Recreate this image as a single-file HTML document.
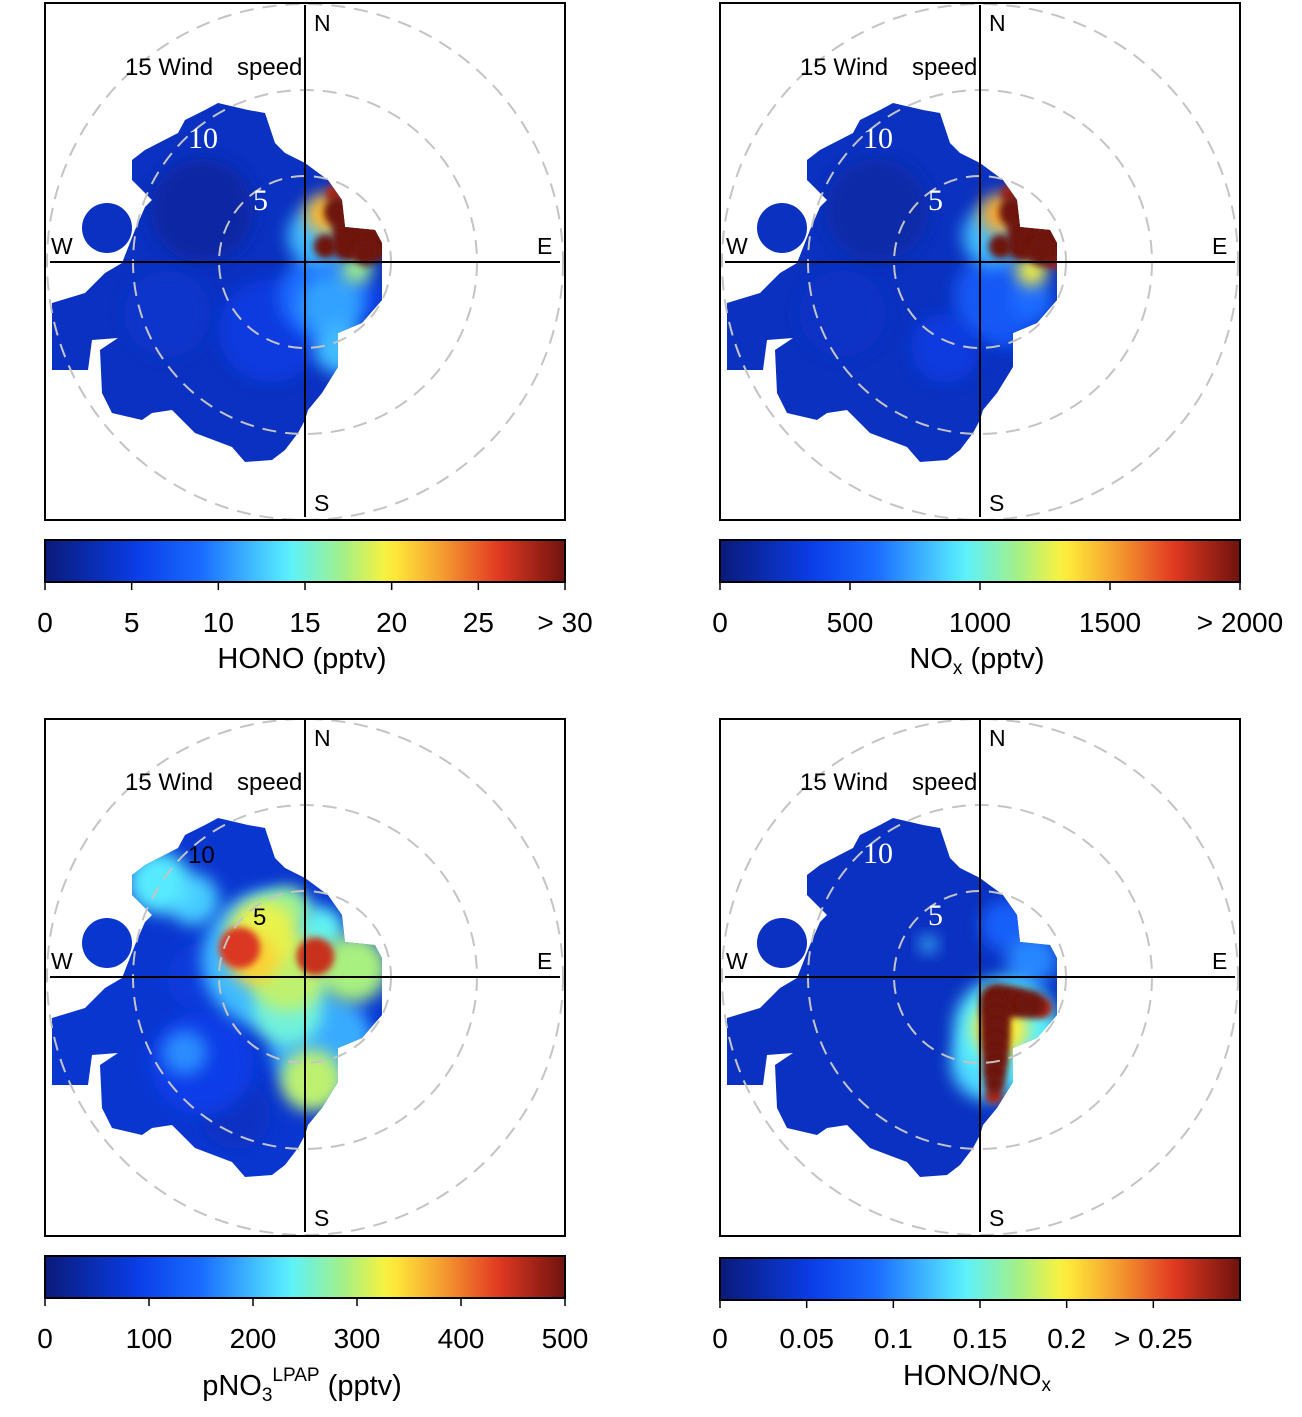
<!DOCTYPE html>
<html><head><meta charset="utf-8">
<style>
body{margin:0;background:#fff;}
svg{display:block;font-family:"Liberation Sans",sans-serif;}
</style></head>
<body>
<svg id="fig" width="1302" height="1417" viewBox="0 0 1302 1417" xmlns="http://www.w3.org/2000/svg">
<defs>
<filter id="blur" x="-50%" y="-50%" width="200%" height="200%"><feGaussianBlur stdDeviation="8"/></filter>
<filter id="blur2" x="-50%" y="-50%" width="200%" height="200%"><feGaussianBlur stdDeviation="3.5"/></filter>
</defs>
</svg>
<script>
// ---- data ----
const scalePx = 17.2; // px per m/s
const hono_u=[-6,-8,-2,1,2,1.5,3.5,0.8,1.2,3,2.4,3,4.1,1.2,2,1.7,3.5];
const hono_v=[3,-3,-4,-2,-5,-2.5,-2,1.5,2.8,-0.4,0.9,1.8,1.2,0.9,2.9,4,0.6];
const hono_val=[2,4,5,9,12,11,6,12,22,17,30,30,30,30,30,28,30];
const hono_r=[3,2.5,3,2.5,1.5,1.8,1,1.8,1.2,0.9,0.8,1.4,1.1,0.7,0.9,0.5,0.8];
const nox_u=[-6,-8,-2,1,1.5,3,0.8,1.2,3,2.4,3,4.1,1.2,2,1.7,4.3,3.5];
const nox_v=[3,-3,-5,-2,-3.5,-2.2,1.5,2.8,-0.5,0.9,1.8,1.2,0.9,2.9,4,0.4,0.6];
const nox_val=[150,250,330,500,450,600,800,1500,1300,2000,2000,2000,2000,2000,1900,1900,2000];
const nox_r=[3,2.5,2,2.5,1.5,1.2,1.8,1.2,0.9,0.8,1.4,1.1,0.7,0.9,0.5,0.8,0.8];
const pno_u=[-6,-2,1,-8.5,-6.5,-7,-2.5,-1,2.8,0.4,-1,-3.8,0.6,2.3,-4,-6,-2,1,-1,-3];
const pno_v=[-5,1,-4,5.5,4.5,-4.4,2.5,0.3,0.5,-6,-2,1.7,1.2,-2,-8,0,3.5,2.8,4,1];
const pno_val=[90,200,190,230,210,170,320,300,290,300,250,440,450,90,60,80,260,240,280,350];
const pno_r=[3,4,3,1.8,1.5,1.3,2,2.3,2,1.8,2,1.2,1.1,1.3,2,2,1.3,1.2,1.2,1.4];
const ratio_u=[3,1.5,1.5,0.5,-3,1.2,0.9,1.6,2.3,3,3.6,0.9,0.9,0.9,0.9,0.9,0.85,0.85,0.8];
const ratio_v=[1,3,-3,-5,1.9,-3,-1.3,-1.4,-1.5,-1.6,-1.8,-2,-2.7,-3.4,-4.1,-4.8,-5.5,-6.2,-6.9];
const ratio_val=[0.1,0.08,0.14,0.13,0.12,0.2,0.3,0.3,0.3,0.3,0.28,0.3,0.3,0.3,0.3,0.3,0.3,0.3,0.28];
const ratio_r=[1.5,1.5,3,2.2,0.5,1.6,0.9,0.9,0.85,0.8,0.6,0.9,0.85,0.85,0.8,0.75,0.7,0.6,0.5];
const hono_ticks=[0,5,10,15,20,25,30];
const hono_labels=["0","5","10","15","20","25","> 30"];
const nox_ticks=[0,500,1000,1500,2000];
const nox_labels=["0","500","1000","1500","> 2000"];
const pno_ticks=[0,100,200,300,400,500];
const pno_labels=["0","100","200","300","400","500"];
const ratio_ticks=[0,0.05,0.1,0.15,0.2,0.25];
const ratio_labels=["0","0.05","0.1","0.15","0.2","> 0.25"];

const NS="http://www.w3.org/2000/svg";
const svg=document.getElementById('fig');
const stops=[[0,'#0a1a7a'],[0.18,'#0a3ee8'],[0.3,'#1a6cff'],[0.47,'#5af2ff'],[0.58,'#a8f080'],[0.66,'#fff23a'],[0.76,'#f5a030'],[0.87,'#e33a22'],[1,'#6e120e']];
function hex(c){return [1,3,5].map(i=>parseInt(c.substr(i,2),16));}
function cmap(t){t=Math.max(0,Math.min(1,t));for(let i=1;i<stops.length;i++){if(t<=stops[i][0]){const a=stops[i-1],b=stops[i];const f=(t-a[0])/(b[0]-a[0]);const ca=hex(a[1]),cb=hex(b[1]);return 'rgb('+ca.map((v,k)=>Math.round(v+(cb[k]-v)*f)).join(',')+')';}}return stops[stops.length-1][1];}
function el(tag,attrs,parent){const e=document.createElementNS(NS,tag);for(const k in attrs)e.setAttribute(k,attrs[k]);(parent||svg).appendChild(e);return e;}
const blobPts=[[-87,-159],[-57,-152],[-40,-149],[-30,-119],[-20,-109],[0,-99],[23,-82],[37,-62],[40,-35],[70,-32],[77,-19],[77,38],[57,61],[33,71],[33,105],[17,131],[3,148],[0,158],[-7,171],[-20,188],[-33,198],[-60,200],[-73,185],[-110,171],[-133,148],[-153,151],[-163,158],[-193,151],[-203,131],[-205,88],[-187,76],[-213,78],[-217,108],[-253,108],[-253,41],[-220,31],[-200,11],[-183,1],[-170,-32],[-160,-55],[-153,-62],[-173,-82],[-173,-102],[-160,-112],[-127,-129],[-120,-142],[-100,-152]];
let cid=0;
function panel(cx,cy,box,us,vs,vals,rs,vmax,base,lab10w,nm){
  const g=el('g',{});
  
  
  const cp=el('clipPath',{id:'cp'+cid},svg.querySelector('defs'));
  el('path',{d:'M'+blobPts.map(p=>(cx+p[0])+','+(cy+p[1])).join(' L')+' Z'},cp);
  el('circle',{cx:cx-198,cy:cy-34,r:25},cp);
  const h=el('g',{'clip-path':'url(#cp'+cid+')'},g);
  
  
  el('rect',{x:cx-270,y:cy-270,width:540,height:540,fill:cmap(base/vmax)},h);
  const idx=us.map((_,i)=>i).sort((a,b)=>vals[a]-vals[b]);
  idx.forEach(i=>{
    const sharp=vals[i]/vmax>0.85;
    const c=el('circle',{cx:cx+us[i]*scalePx,cy:cy-vs[i]*scalePx,r:rs[i]*scalePx,fill:cmap(vals[i]/vmax),filter:sharp?'url(#blur2)':'url(#blur)'},h);
    
    
  });
  cid++;
  [5,10,15].forEach(w=>{const c=el('circle',{cx:cx,cy:cy,r:w*scalePx,fill:'none',stroke:'#c4c4c4','stroke-width':2,'stroke-dasharray':'14,9'},g);
    
    });
  el('line',{x1:cx-255,y1:cy,x2:cx+255,y2:cy,stroke:'#000','stroke-width':2},g);
  el('line',{x1:cx,y1:cy-257,x2:cx,y2:cy+255,stroke:'#000','stroke-width':2},g);
  const r=el('rect',{x:box[0],y:box[1],width:520,height:517,fill:'none',stroke:'#000','stroke-width':2},g);
  
  const t=(x,y,s,txt,extra)=>{const e=el('text',Object.assign({x:x,y:y,'font-size':s},extra||{}),g);e.textContent=txt;return e;};
  t(cx+9,cy-231,23,'N');t(cx+9,cy+249,23,'S');t(cx-254,cy-8,23,'W');t(cx+232,cy-8,23,'E');
  t(cx-180,cy-187,24,'15 Wind');t(cx-68,cy-187,24,'speed');
  const serif=lab10w?{fill:'#fff','font-family':'Liberation Serif, serif'}:{fill:'#000'};
  t(cx-117,cy-114,lab10w?30:24,'10',serif);t(cx-52,cy-52,lab10w?30:24,'5',serif);
}
function colorbar(x,y,ticks,labels,vmax,ly,title,ty,nm){
  const g=el('g',{});
  
  
  const lg=el('linearGradient',{id:'lg'+nm},svg.querySelector('defs'));
  for(let i=0;i<=40;i++)el('stop',{offset:(i/40),'stop-color':cmap(i/40)},lg);
  el('rect',{x:x,y:y,width:520,height:42,fill:'url(#lg'+nm+')',stroke:'#000','stroke-width':2},g);
  ticks.forEach((v,i)=>{const px=x+v/vmax*520;
    el('line',{x1:px,y1:y+42,x2:px,y2:y+50,stroke:'#000','stroke-width':1.5},g);
    const e=el('text',{x:px,y:ly,'font-size':28,'text-anchor':'middle'},g);e.textContent=labels[i];
    });
  const tt=el('text',{x:x+257,y:ty,'font-size':29,'text-anchor':'middle'},g);tt.innerHTML=title;
  
}
panel(305,262,[45,3],hono_u,hono_v,hono_val,hono_r,30,3.5,true,'hono');
panel(980,262,[720,3],nox_u,nox_v,nox_val,nox_r,2000,230,true,'nox');
panel(305,977,[45,719],pno_u,pno_v,pno_val,pno_r,500,70,false,'pno3');
panel(980,977,[720,719],ratio_u,ratio_v,ratio_val,ratio_r,0.3,0.035,true,'ratio');
colorbar(45,540,hono_ticks,hono_labels,30,632,'HONO (pptv)',668,'hono');
colorbar(720,540,nox_ticks,nox_labels,2000,632,'NO<tspan font-size="19" dy="6">x</tspan><tspan dy="-6"> (pptv)</tspan>',668,'nox');
colorbar(45,1256,pno_ticks,pno_labels,500,1348,'pNO<tspan font-size="19" dy="6">3</tspan><tspan font-size="19" dy="-20">LPAP</tspan><tspan dy="14"> (pptv)</tspan>',1395,'pno3');
colorbar(720,1258,ratio_ticks,ratio_labels,0.3,1348,'HONO/NO<tspan font-size="19" dy="6">x</tspan>',1385,'ratio');
</script>
</body></html>
